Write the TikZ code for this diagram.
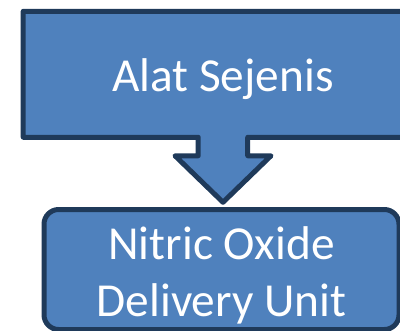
\documentclass[tikz,border=0pt]{standalone}
\usepackage{fontspec}
\setmainfont{Carlito}
\definecolor{boxfill}{HTML}{4F81BD}
\definecolor{boxline}{HTML}{1F3A5A}
\begin{document}
\begin{tikzpicture}[x=0.75pt,y=-0.75pt,
    box/.style={fill=boxfill,draw=boxline,line width=3.75pt,line join=round},
    boxtext/.style={text=white,align=center,font=\fontsize{35.5}{42.75}\selectfont}]
  \useasboundingbox (0,0) rectangle (400,330);
  \clip (0,0) rectangle (400,330);
  \node[minimum width=299.25pt,minimum height=94.1pt] (alat) at (223,74.25) {};
  \draw[box] (alat.north west) -- (alat.north east) -- (alat.south east)
    -- ([xshift=18.56pt]alat.south) -- ++(0,18.5) -- ++(23.25,0) -- ++(-48,46.5) coordinate (tip)
    -- ++(-48,-46.5) -- ++(23.25,0) -- ++(0,-18.5) -- (alat.south west) -- cycle;
  \node[boxtext] at ([yshift=-3.75pt]alat.center) {Alat Sejenis};
  \node[box,rounded corners=11pt,minimum width=266.25pt,minimum height=90pt] (nitric) at (221.5,269.5) {};
  \node[boxtext] at ([yshift=-4.75pt]nitric.center) {Nitric Oxide\\Delivery Unit};
\end{tikzpicture}
\end{document}
